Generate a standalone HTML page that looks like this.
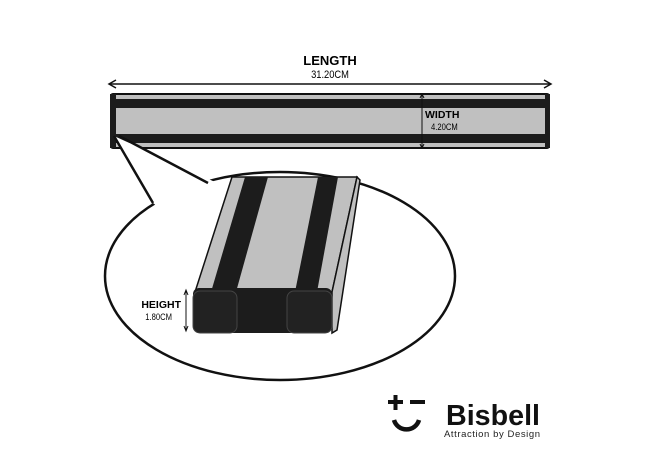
<!DOCTYPE html>
<html><head><style>
body{margin:0;background:#fff;}
svg{display:block}
text{font-family:"Liberation Sans",sans-serif}
</style></head><body>
<svg width="660" height="450" viewBox="0 0 660 450">
<!-- length arrow -->
<text x="330" y="65" text-anchor="middle" font-size="13" font-weight="bold">LENGTH</text>
<text x="330" y="78" text-anchor="middle" font-size="11" transform="translate(330 0) scale(0.85 1) translate(-330 0)">31.20CM</text>
<line x1="110" y1="84" x2="550" y2="84" stroke="#111" stroke-width="1.5"/>
<path d="M116 80 L109 84 L116 88 M544 80 L551 84 L544 88" fill="none" stroke="#111" stroke-width="1.5"/>
<!-- bar -->
<rect x="111" y="94" width="438" height="54" fill="#c0c0c0" stroke="#111" stroke-width="2" rx="2"/>
<rect x="112" y="99" width="436" height="9" fill="#1c1c1c"/>
<rect x="112" y="134" width="436" height="9" fill="#1c1c1c"/>
<rect x="110" y="94" width="6" height="54" fill="#1c1c1c"/>
<rect x="545" y="94" width="5" height="54" fill="#1c1c1c"/>
<line x1="422" y1="95" x2="422" y2="147" stroke="#111" stroke-width="1"/>
<path d="M420 98 L422 94 L424 98 M420 144 L422 148 L424 144" fill="none" stroke="#111"/>
<text x="425" y="118" font-size="10.5" font-weight="bold">WIDTH</text>
<text x="431" y="130" font-size="9" transform="translate(431 0) scale(0.85 1) translate(-431 0)">4.20CM</text>
<!-- callout -->
<ellipse cx="280" cy="276" rx="175" ry="104" fill="#fff" stroke="#111" stroke-width="2.5"/>
<path d="M114 136 L153 203 L175 220 L215 182 Z" fill="#fff"/>
<path d="M114 136 L153 203 M119 136 L208 183" stroke="#111" stroke-width="2.5" fill="none"/>
<!-- rail top -->
<path d="M232 177 L357 177 L332 292 L195 292 Z" fill="#c0c0c0" stroke="#111" stroke-width="1.5"/>
<path d="M245 177 L268 177 L236 292 L211 292 Z" fill="#1c1c1c"/>
<path d="M318 177 L338 177 L317 292 L295 292 Z" fill="#1c1c1c"/>
<path d="M357 177 L360 180 L337 330 L332 333 L332 292 Z" fill="#c0c0c0" stroke="#111" stroke-width="1.5"/>
<!-- front -->
<rect x="193" y="288" width="139" height="45" rx="6" fill="#1c1c1c"/>
<rect x="193" y="291" width="44" height="42" rx="7" fill="#222" stroke="#444" stroke-width="1"/>
<rect x="287" y="291" width="45" height="42" rx="7" fill="#222" stroke="#444" stroke-width="1"/>
<line x1="186" y1="291" x2="186" y2="330" stroke="#111"/>
<path d="M184 295 L186 290 L188 295 M184 326 L186 331 L188 326" fill="none" stroke="#111"/>
<text x="181" y="308" text-anchor="end" font-size="10.5" font-weight="bold">HEIGHT</text>
<text x="172" y="320" text-anchor="end" font-size="9" transform="translate(172 0) scale(0.85 1) translate(-172 0)">1.80CM</text>
<!-- logo -->
<rect x="388" y="400" width="15" height="4" fill="#111"/>
<rect x="393.5" y="395" width="4" height="15" fill="#111"/>
<rect x="410" y="400" width="15" height="4" fill="#111"/>
<path d="M394 420 A13 13 0 0 0 419 420" fill="none" stroke="#111" stroke-width="4.5"/>
<text x="446" y="425" font-size="29" font-weight="bold" fill="#111" textLength="94" lengthAdjust="spacingAndGlyphs">Bisbell</text>
<text x="444" y="437" font-size="9.5" fill="#222" textLength="96" lengthAdjust="spacing">Attraction by Design</text>
</svg>
</body></html>
